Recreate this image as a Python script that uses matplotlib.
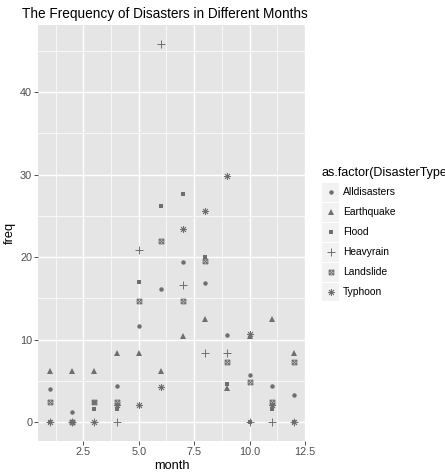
import matplotlib
matplotlib.use("Agg")
import matplotlib.pyplot as plt
import numpy as np
from matplotlib.path import Path
from matplotlib.patches import Rectangle
from matplotlib.lines import Line2D

plt.rcParams['font.family'] = ['Liberation Sans', 'DejaVu Sans']

months = list(range(1, 13))
disaster_types = ["Alldisasters", "Earthquake", "Flood", "Heavyrain", "Landslide", "Typhoon"]
alldisasters = [4.0, 1.2, 2.4, 4.4, 11.7, 16.1, 19.4, 16.9, 10.5, 5.7, 4.4, 3.3]
earthquake = [6.25, 6.25, 6.25, 8.33, 8.33, 6.25, 10.42, 12.5, 4.17, 10.42, 12.5, 8.33]
flood = [0, 0, 1.54, 1.54, 16.92, 26.15, 27.69, 20.0, 4.62, 0, 1.54, 0]
heavyrain = [0, 0, 0, 0, 20.83, 45.83, 16.67, 8.33, 8.33, 0, 0, 0]
landslide = [2.44, 0, 2.44, 2.44, 14.63, 21.95, 14.63, 19.51, 7.32, 4.88, 2.44, 7.32]
typhoon = [0, 0, 0, 2.13, 2.13, 4.26, 23.40, 25.53, 29.79, 10.64, 2.13, 0]
series = [alldisasters, earthquake, flood, heavyrain, landslide, typhoon]

xticks = [2.5, 5.0, 7.5, 10.0, 12.5]
xticklabels = ["2.5", "5.0", "7.5", "10.0", "12.5"]
yticks = [0, 10, 20, 30, 40]

# square with X (ggplot shape 7)
sqx = Path([(-1, -1), (1, -1), (1, 1), (-1, 1), (-1, -1), (-1, -1), (1, 1), (-1, 1), (1, -1)],
           [Path.MOVETO, Path.LINETO, Path.LINETO, Path.LINETO, Path.LINETO,
            Path.MOVETO, Path.LINETO, Path.MOVETO, Path.LINETO])

col = '#6e6e6e'
styles = [
    dict(marker='o', markersize=3.2, color=col, markeredgewidth=0),
    dict(marker='^', markersize=4.0, color=col, markeredgewidth=0),
    dict(marker='s', markersize=3.2, color=col, markeredgewidth=0),
    dict(marker='+', markersize=5.2, color=col, markeredgewidth=0.7),
    dict(marker=sqx, markersize=3.4, color=col, markerfacecolor='none', markeredgewidth=0.7),
    dict(marker=(8, 2, 0), markersize=5.0, color=col, markeredgewidth=0.6),
]

W, H = 445, 474
fig = plt.figure(figsize=(W / 100, H / 100), dpi=100)
L, R, T, B = 38, 306, 25, 441
ax = fig.add_axes([L / W, 1 - B / H, (R - L) / W, (B - T) / H])
ax.set_facecolor('#E5E5E5')
for s in ax.spines.values():
    s.set_visible(False)

ax.set_xlim(0.45, 12.55)
ax.set_ylim(-2.29, 48.12)
ax.set_xticks(xticks)
ax.set_xticklabels(xticklabels)
ax.set_yticks(yticks)
ax.set_xticks([1.25, 3.75, 6.25, 8.75, 11.25], minor=True)
ax.set_yticks([5, 15, 25, 35, 45], minor=True)
ax.grid(which='major', color='white', linewidth=1.0)
ax.grid(which='minor', color='white', linewidth=0.5)
ax.set_axisbelow(True)
ax.tick_params(which='major', length=2.7, width=0.6, color='#333333', labelcolor='#4D4D4D',
               labelsize=7.8, pad=1.5)
ax.tick_params(which='minor', length=0)

for vals, st in zip(series, styles):
    ax.plot(months, vals, linestyle='none', **st)

ax.set_xlabel("month", fontsize=9.2, labelpad=2, color='black')
ax.set_ylabel("freq", fontsize=9.2, labelpad=3, color='black')
fig.text(22 / W, 1 - 14 / H, "The Frequency of Disasters in Different Months",
         fontsize=9.8, va='center', ha='left')

# legend
fig.text(321 / W, 1 - 173 / H, "as.factor(DisasterType)", fontsize=9.0, va='center', ha='left')
key_w, key_h = 17, 19.9
y0 = 182.5
for i, (name, st) in enumerate(zip(disaster_types, styles)):
    top = y0 + i * key_h
    fig.patches.append(Rectangle((322 / W, 1 - (top + key_h - 0.5) / H), key_w / W, (key_h - 1) / H,
                                 transform=fig.transFigure, facecolor='#F2F2F2', edgecolor='none'))
    cy = top + key_h / 2
    fig.add_artist(Line2D([(322 + key_w / 2) / W], [1 - cy / H], transform=fig.transFigure,
                          linestyle='none', **st))
    fig.text(343 / W, 1 - cy / H, name, fontsize=7.4, va='center', ha='left')

fig.savefig("out.png", dpi=100)
